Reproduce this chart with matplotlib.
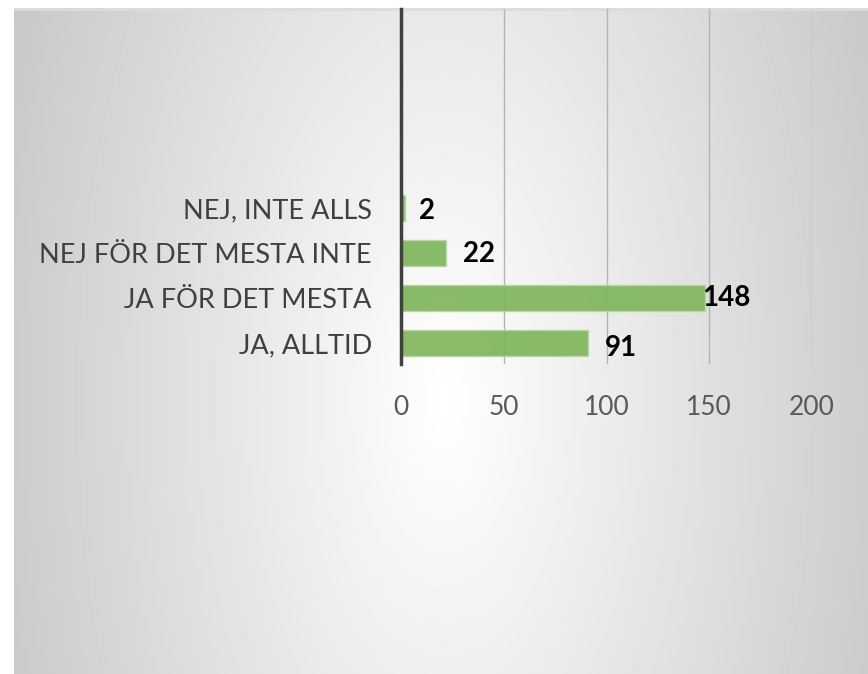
import numpy as np
import matplotlib
matplotlib.use("Agg")
import matplotlib.pyplot as plt

# data
categories = ["JA, ALLTID", "JA FÖR DET MESTA", "NEJ FÖR DET MESTA INTE", "NEJ, INTE ALLS"]
values = [91, 148, 22, 2]
xticks = [0, 50, 100, 150, 200]

# label nudges in points (hand placed in the original)
label_offsets = [(12, -3.5), (-2, 0), (12, -1), (10, -2)]

W, H = 868, 674
fig = plt.figure(figsize=(W / 100, H / 100), dpi=100)
fig.patch.set_facecolor("white")

# radial grey background of the chart area
bg_left, bg_top = 14, 8
bg = fig.add_axes([bg_left / W, 0, 1 - bg_left / W, 1 - bg_top / H])
xs = np.arange(bg_left, W) + 0.5
ys = np.arange(bg_top, H) + 0.5
X, Y = np.meshgrid(xs, ys)
cx, cy = 445, 400
dark = np.sqrt((48 * (X - cx) / 411) ** 2 + (22 * (Y - cy) / 380) ** 2)
shade = np.clip(255 - dark, 0, 255) / 255
bg.imshow(shade, cmap="gray", vmin=0, vmax=1, aspect="auto", interpolation="bilinear")
bg.axhline(0, color="#dcdcdc", lw=2)
bg.set_axis_off()

# main plot
ax = fig.add_axes([401 / W, (H - 364) / H, 411 / W, 355 / H])
ax.set_facecolor("none")
ypos = np.arange(len(categories))
ax.barh(ypos, values, height=0.57, color="#7fb65c", edgecolor="#b5d99c",
        linewidth=1, alpha=0.92, zorder=3)

for y, v, (dx, dy) in zip(ypos, values, label_offsets):
    ax.annotate(str(v), (v, y), xytext=(dx, dy), textcoords="offset points",
                ha="left", va="center", fontsize=20, fontweight="bold",
                family="Lato", color="black", zorder=4)

ax.set_xlim(0, 200)
ax.set_ylim(-0.467, 7.42)
ax.set_xticks(xticks)
ax.set_xticklabels([str(t) for t in xticks], family="Lato", fontsize=19, color="#595959")
ax.set_yticks(ypos)
ax.set_yticklabels(categories, family="Lato", fontsize=19.5, color="#404040")
ax.tick_params(axis="x", length=0, pad=22)
ax.tick_params(axis="y", length=0, pad=21)
ax.grid(axis="x", color="#b4b4b4", lw=1, zorder=1)
for s in ["top", "right", "bottom"]:
    ax.spines[s].set_visible(False)
ax.spines["left"].set_color("#404040")
ax.spines["left"].set_linewidth(2.5)
ax.spines["left"].set_zorder(5)

fig.savefig("out.png", dpi=100)
